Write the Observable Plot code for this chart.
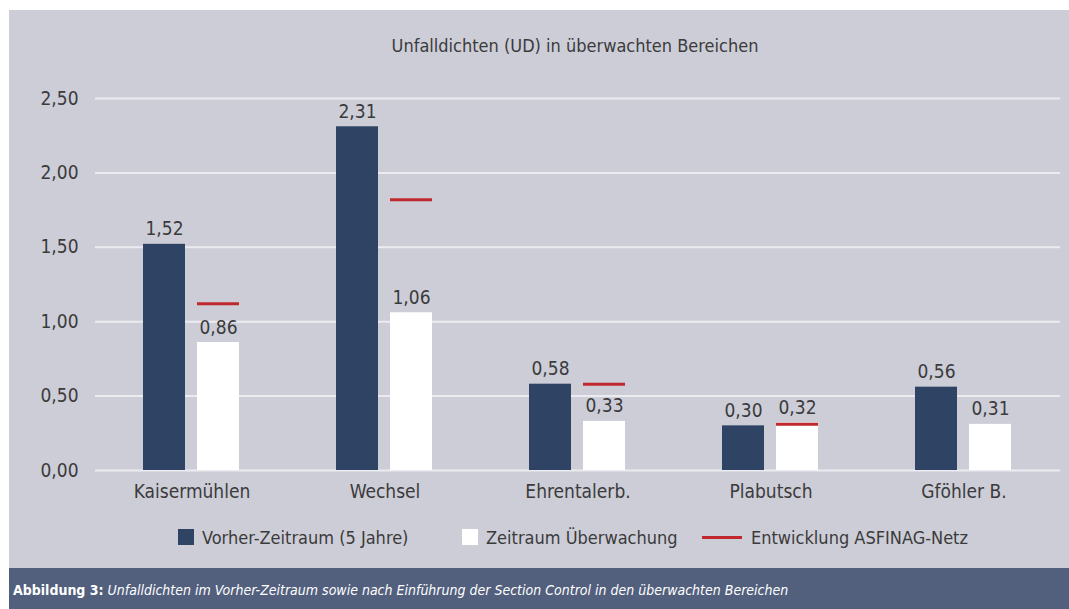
<!DOCTYPE html>
<html><head><meta charset="utf-8">
<script src="https://cdn.jsdelivr.net/npm/d3@7"></script>
<script src="https://cdn.jsdelivr.net/npm/@observablehq/plot@0.6"></script>
<style>
  html,body{margin:0;padding:0;background:#fff;}
  body{width:1069px;height:609px;position:relative;overflow:hidden;
    font-family:"Liberation Sans Narrow","DejaVu Sans Condensed","Roboto Condensed",Roboto,sans-serif;font-stretch:condensed;color:#3b3b3b;}
  #panel{position:absolute;left:9px;top:10px;width:1060px;height:558px;background:#cdcdd8;}
  #title{position:absolute;left:36px;width:1060px;top:25px;text-align:center;font-size:18px;}
  #chart{position:absolute;left:0;top:60px;}
  #legend{position:absolute;left:0;top:515px;width:1060px;font-size:18px;}
  .li{position:absolute;top:0;display:flex;align-items:center;height:24px;white-space:nowrap;}
  .sw{display:inline-block;width:16px;height:16px;margin-right:8px;}
  .ln{display:inline-block;width:40px;height:3px;background:#c0282d;margin-right:9px;}
  #caption{position:absolute;left:9px;top:568px;width:1060px;height:41px;background:#525f7d;color:#fff;font-size:14px;}
  #caption span{position:absolute;left:4px;top:14px;white-space:nowrap;}
</style></head>
<body>
<div id="panel">
  <div id="title">Unfalldichten (UD) in überwachten Bereichen</div>
  <div id="chart"></div>
  <div id="legend"></div>
</div>
<div id="caption"><span><b>Abbildung 3:</b> <i>Unfalldichten im Vorher-Zeitraum sowie nach Einführung der Section Control in den überwachten Bereichen</i></span></div>
<script>
const categories = ["Kaisermühlen", "Wechsel", "Ehrentalerb.", "Plabutsch", "Gföhler B."];
const seriesNames = ["Vorher-Zeitraum (5 Jahre)", "Zeitraum Überwachung"];
const vorher = [1.52, 2.31, 0.58, 0.30, 0.56];
const ueberwachung = [0.86, 1.06, 0.33, 0.32, 0.31];
const asfinagCats = ["Kaisermühlen", "Wechsel", "Ehrentalerb.", "Plabutsch"];
const asfinag = [1.12, 1.82, 0.58, 0.31];
const lineName = "Entwicklung ASFINAG-Netz";
const yTicks = [0, 0.5, 1, 1.5, 2, 2.5];
const colors = ["#2f4464", "#ffffff"];
const red = "#c0282d";

const fmt = v => v.toFixed(2).replace(".", ",");
const bars = [];
categories.forEach((c, i) => {
  bars.push({cat: c, series: seriesNames[0], value: vorher[i]});
  bars.push({cat: c, series: seriesNames[1], value: ueberwachung[i]});
});
const lines = asfinagCats.map((c, i) => ({cat: c, series: seriesNames[1], value: asfinag[i]}));

const plot = Plot.plot({
  width: 1060, height: 440,
  marginLeft: 84, marginRight: 7, marginTop: 28, marginBottom: 40,
  style: {background: "transparent", fontFamily: "inherit", fontSize: "19px", color: "#3b3b3b"},
  fx: {domain: categories, padding: 0, label: null, axis: "bottom", tickSize: 0, tickPadding: 14, fontSize: 18},
  x: {domain: seriesNames, paddingInner: 0.22, paddingOuter: 0.87, axis: null},
  y: {domain: [0, 2.5], ticks: yTicks, tickFormat: fmt, label: null, tickSize: 0, tickPadding: 17},
  color: {domain: seriesNames, range: colors},
  marks: [
    Plot.gridY(yTicks, {stroke: "#ebebf0", strokeOpacity: 1, strokeWidth: 2}),
    Plot.barY(bars, {fx: "cat", x: "series", y: "value", fill: "series"}),
    Plot.text(bars, {fx: "cat", x: "series", y: "value", text: d => fmt(d.value), lineAnchor: "bottom", dy: -9, fontSize: 19, fill: "#3b3b3b"}),
    Plot.tickY(lines, {fx: "cat", x: "series", y: "value", stroke: red, strokeWidth: 3})
  ]
});
document.getElementById("chart").appendChild(plot);

const legend = document.getElementById("legend");
const items = [
  {left: 169, html: `<span class="sw" style="background:${colors[0]}"></span>${seriesNames[0]}`},
  {left: 453, html: `<span class="sw" style="background:${colors[1]}"></span>${seriesNames[1]}`},
  {left: 693, html: `<span class="ln"></span>${lineName}`}
];
items.forEach(it => {
  const d = document.createElement("div");
  d.className = "li"; d.style.left = it.left + "px"; d.innerHTML = it.html;
  legend.appendChild(d);
});
</script>
</body></html>
